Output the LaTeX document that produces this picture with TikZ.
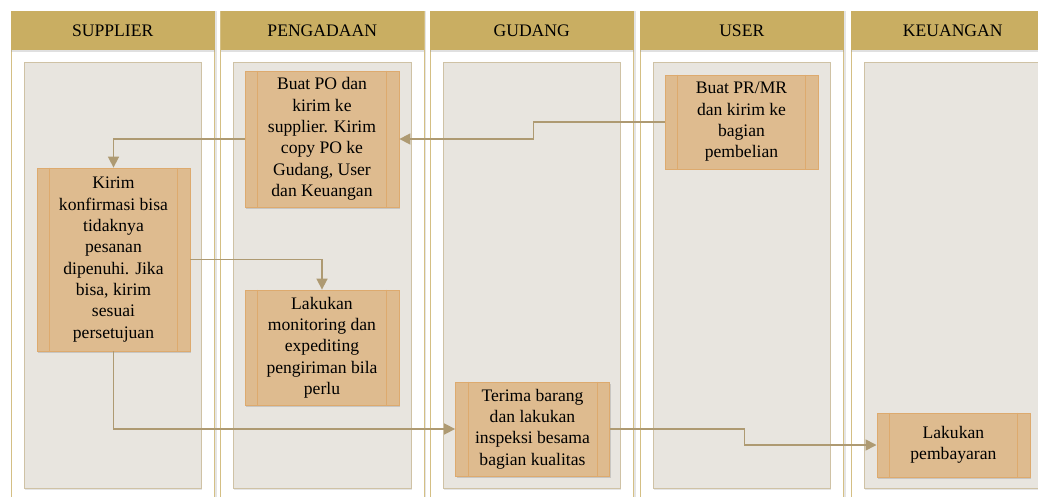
\documentclass[tikz,border=0pt]{standalone}
\usepackage{fontspec}
\setmainfont{Liberation Serif}
\usetikzlibrary{shadows,arrows.meta,calc}
\definecolor{hdr}{HTML}{C9AE62}
\definecolor{laneln}{HTML}{D4BF84}
\definecolor{innerfill}{HTML}{E8E5DF}
\definecolor{innerln}{HTML}{CFC2A5}
\definecolor{boxfill}{HTML}{DEBB8F}
\definecolor{boxln}{HTML}{DDAA6E}
\definecolor{conncol}{HTML}{AE9A72}
\tikzset{
  x=1pt,y=-1pt,
  lanebox/.style={draw=laneln,line width=0.9pt,fill=white,
    drop shadow={shadow xshift=2.2pt,shadow yshift=0pt,opacity=0.25,fill=black!40}},
  hdrbox/.style={fill=hdr,draw=none,
    drop shadow={shadow xshift=0pt,shadow yshift=-2pt,opacity=0.3,fill=black!40}},
  innerbox/.style={draw=innerln,line width=0.8pt,fill=innerfill,
    drop shadow={shadow xshift=0.8pt,shadow yshift=-1.5pt,opacity=0.25,fill=black!40}},
  procbox/.style={draw=boxln,line width=0.8pt,fill=boxfill,align=center,
    inner sep=0pt,font=\fontsize{17.6}{21.3}\selectfont,
    drop shadow={shadow xshift=1pt,shadow yshift=-1.5pt,opacity=0.3,fill=black!50}},
  hdrtext/.style={font=\fontsize{17.6}{21}\selectfont,inner sep=0pt},
  conn/.style={draw=conncol,line width=1.6pt,-{Triangle[length=11pt,width=11pt]}},
  strip/.style={draw=boxln,line width=0.8pt}
}
\newcommand{\lanedraw}[3]{%
  \path[lanebox] (#1,11) rectangle (#1+203.5,520);
  \path[hdrbox] (#1,11) rectangle (#1+203.5,50);
  \node[hdrtext] (h#3) at (#1+101.75,30.5) {#2};
  \path[innerbox] (#1+13,62) rectangle (#1+190.5,488);
}
\newcommand{\strips}[1]{%
  \draw[strip] ([xshift=13pt]#1.north west) -- ([xshift=13pt]#1.south west);
  \draw[strip] ([xshift=-13pt]#1.north east) -- ([xshift=-13pt]#1.south east);
}
\begin{document}
\begin{tikzpicture}
\useasboundingbox (0,0) rectangle (1038,497);
\fill[white] (0,0) rectangle (1038,497);
\lanedraw{11}{SUPPLIER}{a}
\lanedraw{220.5}{PENGADAAN}{b}
\lanedraw{430}{GUDANG}{c}
\lanedraw{640}{USER}{d}
\lanedraw{851}{KEUANGAN}{e}

\node[procbox,minimum width=154pt,minimum height=136pt] (po) at (322,139)
  {Buat PO dan\\kirim ke\\supplier. Kirim\\copy PO ke\\Gudang, User\\dan Keuangan};
\node[procbox,minimum width=153pt,minimum height=183pt] (kirim) at (113.5,259.5)
  {Kirim\\konfirmasi bisa\\tidaknya\\pesanan\\dipenuhi. Jika\\bisa, kirim\\sesuai\\persetujuan};
\node[procbox,minimum width=154pt,minimum height=115pt] (mon) at (322,347.5)
  {Lakukan\\monitoring dan\\expediting\\pengiriman bila\\perlu};
\node[procbox,minimum width=153pt,minimum height=94pt] (pr) at (741.5,122)
  {Buat PR/MR\\dan kirim ke\\bagian\\pembelian};
\node[procbox,minimum width=154pt,minimum height=94pt] (terima) at (532.5,429)
  {Terima barang\\dan lakukan\\inspeksi besama\\bagian kualitas};
\node[procbox,minimum width=153pt,minimum height=64pt] (bayar) at (953.4,445)
  {Lakukan\\pembayaran};
\strips{po}\strips{kirim}\strips{mon}\strips{pr}\strips{terima}\strips{bayar}

\draw[conn] (pr.west) -- ++(-131,0) |- (po.east);
\draw[conn] (po.west) -| (kirim.north);
\draw[conn] (kirim.east) -| (mon.north);
\draw[conn] (kirim.south) |- (terima.west);
\draw[conn] (terima.east) -- ++(134.6,0) |- (bayar.west);
\end{tikzpicture}
\end{document}
